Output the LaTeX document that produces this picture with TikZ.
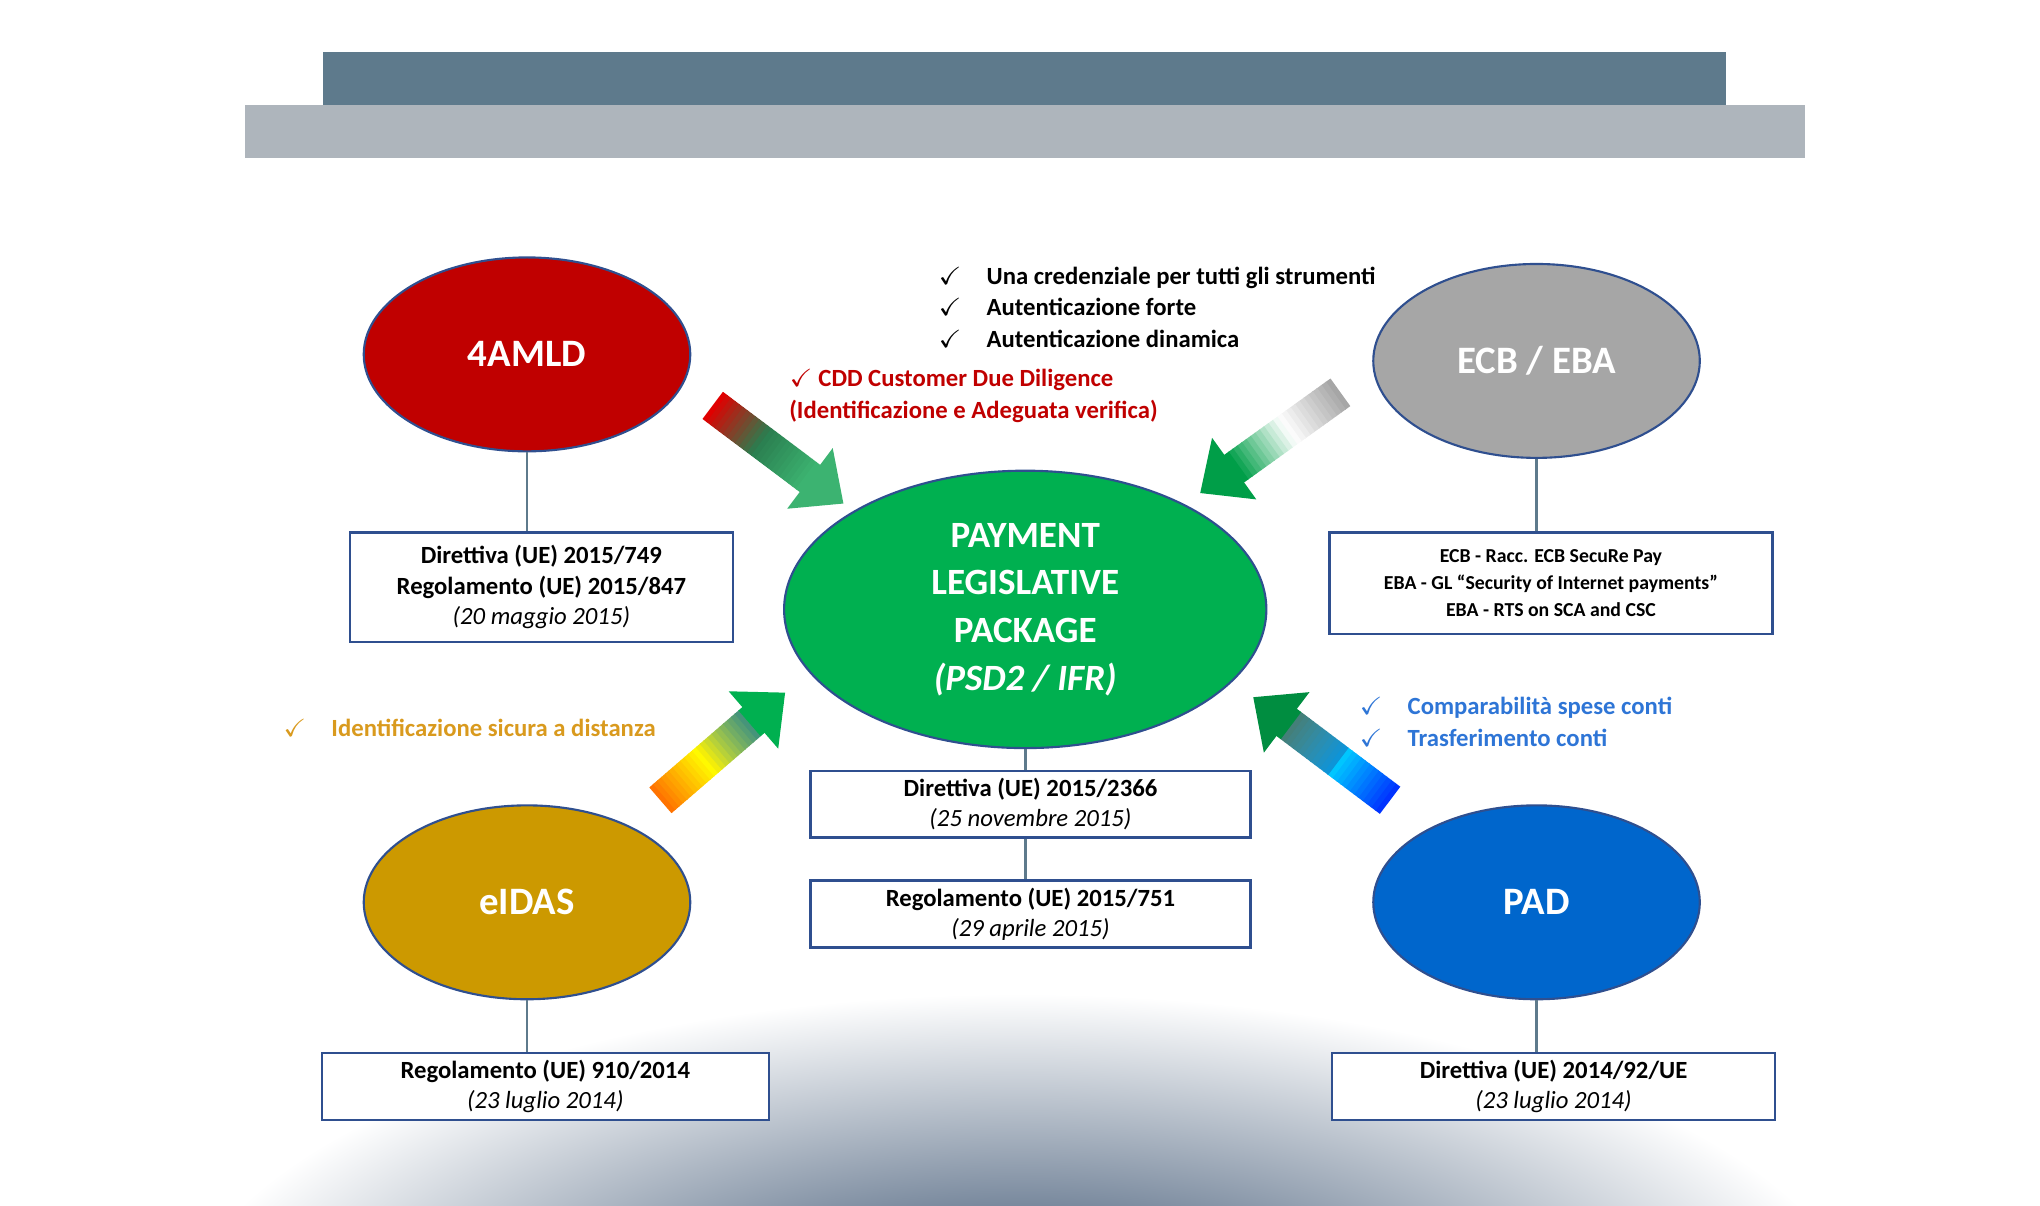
\documentclass[tikz,border=0pt]{standalone}
\usepackage{fontspec}
\setmainfont{Carlito}
\usepackage{amssymb}
\usetikzlibrary{positioning,shapes.geometric}
\definecolor{barA}{HTML}{5E7A8C}
\definecolor{barB}{HTML}{AEB5BC}
\definecolor{amlRed}{HTML}{C00000}
\definecolor{ecbGray}{HTML}{A6A6A6}
\definecolor{psdGreen}{HTML}{00B050}
\definecolor{eidGold}{HTML}{CC9900}
\definecolor{padBlue}{HTML}{0066CC}
\definecolor{rimBlue}{HTML}{2F4F8F}
\definecolor{noteOrange}{HTML}{D99A1E}
\definecolor{noteBlue}{HTML}{2E75D6}
\definecolor{navy}{HTML}{1F3A5C}
\definecolor{arrRed}{HTML}{E00000}
\definecolor{arrGreen}{HTML}{3CB371}

\begin{document}
\begin{tikzpicture}[x={(0.01302cm,0)},y={(0,-0.013015cm)},
    ell/.style={ellipse,draw=rimBlue,line width=0.6pt,minimum width=3.25cm,minimum height=1.93cm,
                text=white,font=\fontsize{11}{13}\selectfont\bfseries},
    law/.style={draw=rimBlue,line width=0.7pt,fill=white,align=center,
                font=\fontsize{7}{8.6}\selectfont\bfseries,inner sep=2pt},
    link/.style={draw=barA,line width=0.8pt},
    note/.style={anchor=west,font=\fontsize{7}{9}\selectfont\bfseries,align=left}]
  % \draw[help lines] (0,0) grid (1560,922);
  \useasboundingbox (0,0) rectangle (1560,922);

  % background glow
  \begin{scope}
    \clip (160,750) rectangle (1400,922);
    \shade[inner color=navy,outer color=white] (780,1030) ellipse (650 and 270);
  \end{scope}

  % title bars
  \fill[barB] (187,80) rectangle (1380,121);
  \fill[barA] (247,40) rectangle (1320,80);

  % the five bodies
  \node[ell,fill=amlRed]   (aml)  at (403,271) {4AMLD};
  \node[ell,fill=ecbGray]  (ecb)  at (1175,276) {ECB / EBA};
  \node[ell,fill=eidGold]  (eid)  at (403,690) {eIDAS};
  \node[ell,fill=padBlue]  (pad)  at (1175,690) {PAD};
  \node[ell,fill=psdGreen,minimum width=4.8cm,minimum height=2.3cm,align=center,
        font=\fontsize{10.5}{13.5}\selectfont\bfseries] (psd) at (784,466)
        {PAYMENT\\LEGISLATIVE\\PACKAGE\\\textit{(PSD2 / IFR)}};

  % the laws
  \node[law,minimum width=3.81cm,minimum height=1.09cm] (amlLaw) at (414,449)
    {Direttiva (UE) 2015/749\\Regolamento (UE) 2015/847\\\mdseries\itshape (20 maggio 2015)};
  \node[law,minimum width=4.41cm,minimum height=1.01cm,font=\fontsize{5.6}{7.6}\selectfont\bfseries] (ecbLaw) at (1186,446)
    {ECB - Racc. ECB SecuRe Pay\\EBA - GL ``Security of Internet payments''\\EBA - RTS on SCA and CSC};
  \node[law,minimum width=4.38cm,minimum height=0.66cm] (psdLaw) at (788,615)
    {Direttiva (UE) 2015/2366\\\mdseries\itshape (25 novembre 2015)};
  \node[law,minimum width=4.38cm,minimum height=0.66cm] (ifrLaw) at (788,699)
    {Regolamento (UE) 2015/751\\\mdseries\itshape (29 aprile 2015)};
  \node[law,minimum width=4.45cm,minimum height=0.62cm] (eidLaw) at (417,831)
    {Regolamento (UE) 910/2014\\\mdseries\itshape (23 luglio 2014)};
  \node[law,minimum width=4.41cm,minimum height=0.62cm] (padLaw) at (1188,831)
    {Direttiva (UE) 2014/92/UE\\\mdseries\itshape (23 luglio 2014)};

  \draw[link] (aml.south) -- (aml.south |- amlLaw.north);
  \draw[link] (ecb.south) -- (ecb.south |- ecbLaw.north);
  \draw[link] (eid.south) -- (eid.south |- eidLaw.north);
  \draw[link] (pad.south) -- (pad.south |- padLaw.north);
  \draw[link] (psd.south) -- (psd.south |- psdLaw.north);
  \draw[link] (psdLaw.south -| psd.south) -- (psd.south |- ifrLaw.north);

  % graded arrows towards the package
  \foreach \tx/\ty/\ang/\len/\ca/\cb/\cc in {545/310/-36.9/125/arrRed/arrGreen!70!black/arrGreen,
      1025/300/215.7/132/gray!70/white/psdGreen!90!black,
      505/612/40.8/126/orange!90!red/yellow/psdGreen,
      1063/612/143/131/blue!80!cyan/cyan!80!blue/psdGreen!80!black}{
    \colorlet{tailC}{\ca}\colorlet{midC}{\cb}\colorlet{headC}{\cc}
    \begin{scope}[shift={(\tx,\ty)},rotate=\ang]
      \foreach \i in {0,...,23}{
        \pgfmathsetmacro\p{\i/23*100}
        \pgfmathtruncatemacro\a{max(0,100-2*\p)}
        \pgfmathtruncatemacro\b{min(100,200-2*\p)}
        \fill[tailC!\a!midC!\b!headC] ({(\len-32)*\i/24},-13) rectangle ({(\len-32)*(\i+1)/24+0.8},13);
      }
      \fill[headC] (\len-32,-29) -- (\len,0) -- (\len-32,29) -- cycle;
    \end{scope}
  }

  % notes
  \node[note] (aims) at (708,235)
    {$\checkmark$\quad Una credenziale per tutti gli strumenti\\
     $\checkmark$\quad Autenticazione forte\\
     $\checkmark$\quad Autenticazione dinamica};
  \node[note,text=amlRed] (cdd) at (594,303)
    {$\checkmark$ CDD Customer Due Diligence\\(Identificazione e Adeguata verifica)};
  \node[note,text=noteOrange] (sid) at (207,557)
    {$\checkmark$\quad Identificazione sicura a distanza};
  \node[note,text=noteBlue] (cmp) at (1030,552)
    {$\checkmark$\quad Comparabilità spese conti\\$\checkmark$\quad Trasferimento conti};
\end{tikzpicture}
\end{document}
